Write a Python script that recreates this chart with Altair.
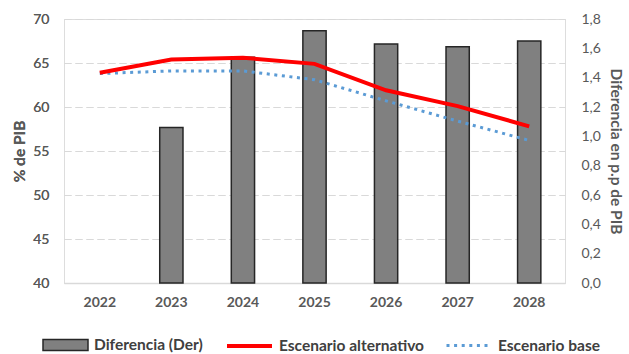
import altair as alt
import pandas as pd

# Años del horizonte de proyección
anios = ["2022", "2023", "2024", "2025", "2026", "2027", "2028"]
# Deuda en % del PIB por escenario (eje izquierdo)
escenario_alternativo = [63.9, 65.4, 65.6, 64.9, 61.9, 60.1, 57.8]
escenario_base = [63.8, 64.1, 64.1, 63.1, 60.7, 58.4, 56.2]
# Diferencia entre escenarios en p.p. de PIB (eje derecho); 2022 sin barra
diferencia = [None, 1.06, 1.54, 1.72, 1.63, 1.61, 1.65]

series = ["Diferencia (Der)", "Escenario alternativo", "Escenario base"]
colores = ["#808080", "#ff0000", "#5b9bd5"]
borde_barra = "#262626"
punteado = [3, 4.6]

FONT = "Lato"
GRIS_TXT = "#595959"

df_barras = pd.DataFrame({"anio": anios, "valor": diferencia, "serie": series[0]}).dropna()
df_alt = pd.DataFrame({"anio": anios, "valor": escenario_alternativo, "serie": series[1]})
df_base = pd.DataFrame({"anio": anios, "valor": escenario_base, "serie": series[2]})

x_scale = alt.Scale(domain=anios, paddingInner=0.675, paddingOuter=0.3375)


def leyenda(x, **kw):
    # Una leyenda por serie, alineadas en una fila bajo el eje X
    return alt.Legend(
        title=None,
        orient="none",
        legendX=x,
        legendY=302.5,
        symbolSize=2025,
        labelOffset=5,
        labelFont=FONT,
        labelFontSize=15.5,
        labelColor="#404040",
        labelFontWeight="bold",
        labelLimit=300,
        padding=0,
        **kw,
    )


x_enc = alt.X(
    "anio:O",
    scale=x_scale,
    title=None,
    axis=alt.Axis(
        labelAngle=0,
        ticks=False,
        domain=True,
        domainColor="#d9d9d9",
        domainWidth=1.5,
        labelPadding=12,
        labelFont=FONT,
        labelFontSize=14,
        labelFontWeight="bold",
        labelColor=GRIS_TXT,
        grid=False,
    ),
)

y_izq = alt.Y(
    "valor:Q",
    scale=alt.Scale(domain=[40, 70], nice=False, zero=False),
    title="% de PIB",
    axis=alt.Axis(
        orient="left",
        values=[40, 45, 50, 55, 60, 65, 70],
        grid=True,
        gridColor="#d9d9d9",
        gridDash=[7, 4],
        gridWidth=1,
        domain=False,
        ticks=False,
        labelPadding=15,
        labelFont=FONT,
        labelFontSize=14,
        labelColor=GRIS_TXT,
        titleFont=FONT,
        titleFontSize=15.5,
        titleFontWeight="bold",
        titleColor=GRIS_TXT,
        titlePadding=5,
    ),
)

y_der = alt.Y(
    "valor:Q",
    scale=alt.Scale(domain=[0, 1.8], nice=False),
    title="Diferencia en p.p de PIB",
    axis=alt.Axis(
        orient="right",
        values=[0, 0.2, 0.4, 0.6, 0.8, 1.0, 1.2, 1.4, 1.6, 1.8],
        labelExpr="replace(format(datum.value, '.1f'), '.', ',')",
        grid=False,
        domain=False,
        ticks=False,
        labelPadding=16,
        labelFont=FONT,
        labelFontSize=14,
        labelColor=GRIS_TXT,
        titleFont=FONT,
        titleFontSize=15.5,
        titleFontWeight="bold",
        titleColor=GRIS_TXT,
        titlePadding=7,
    ),
)

barras = alt.Chart(df_barras).mark_bar(
    stroke=borde_barra, strokeWidth=1.5
).encode(
    x=x_enc,
    y=y_der,
    fill=alt.Fill(
        "serie:N",
        scale=alt.Scale(domain=[series[0]], range=[colores[0]]),
        legend=leyenda(
            -22,
            symbolType="M-1,-0.24H1V0.24H-1Z",
            symbolStrokeColor=borde_barra,
            symbolStrokeWidth=1.5,
            symbolOpacity=1,
        ),
    ),
)

x_linea = alt.X("anio:O", scale=x_scale, bandPosition=0.5, title=None)

linea_base = alt.Chart(df_base).mark_line(
    color=colores[2], strokeWidth=3
).encode(
    x=x_linea,
    y=y_izq,
    strokeDash=alt.StrokeDash(
        "serie:N",
        scale=alt.Scale(domain=[series[2]], range=[punteado]),
        legend=leyenda(
            381,
            symbolType="stroke",
            symbolStrokeColor=colores[2],
            symbolStrokeWidth=3,
            symbolDash=punteado,
        ),
    ),
)

linea_alt = alt.Chart(df_alt).mark_line(strokeWidth=4).encode(
    x=x_linea,
    y=y_izq,
    stroke=alt.Stroke(
        "serie:N",
        scale=alt.Scale(domain=[series[1]], range=[colores[1]]),
        legend=leyenda(161, symbolType="stroke", symbolStrokeWidth=4),
    ),
)

# Las barras van debajo; las líneas se dibujan encima
chart = (
    alt.layer(barras, linea_base, linea_alt)
    .resolve_scale(y="independent")
    .properties(
        width=501,
        height=264,
        autosize=alt.AutoSizeParams(type="none"),
        padding={"left": 64, "top": 19, "right": 64, "bottom": 71},
    )
    .configure_view(stroke=None)
    .configure(background="white")
)

chart.save("out.html", embed_options={"renderer": "svg", "actions": False})
